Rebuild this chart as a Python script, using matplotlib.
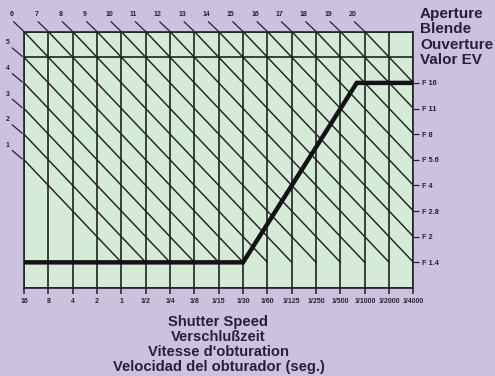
import matplotlib.pyplot as plt

# exposure table: shutter speeds along the bottom, apertures on the right
shutter_labels = ['16', '8', '4', '2', '1', '1/2', '1/4', '1/8', '1/15', '1/30',
                  '1/60', '1/125', '1/250', '1/500', '1/1000', '1/2000', '1/4000']
fstop_labels = ['F 1.4', 'F 2', 'F 2.8', 'F 4', 'F 5.6', 'F 8', 'F 11', 'F 16']
ev_values = list(range(1, 21))

# program line (shutter step, aperture step)
prog_shutter = [0, 9, 13.67, 16]
prog_aperture = [1, 1, 8, 8]

n_cols = len(shutter_labels) - 1
n_rows = 10

bg = '#cbc2dd'
cell = '#d5ebd7'
ink = '#202422'
txt = '#2a1f3a'

plt.rcParams['font.family'] = ['Liberation Sans', 'DejaVu Sans']

fig = plt.figure(figsize=(4.95, 3.76), dpi=100, facecolor=bg)
ax = fig.add_axes([24 / 495, 1 - 288 / 376, 389.5 / 495, 256.4 / 376])
ax.set_facecolor(cell)
ax.set_xlim(0, n_cols)
ax.set_ylim(0, n_rows)

# grid
ax.set_xticks(range(n_cols + 1))
ax.set_xticklabels(shutter_labels, fontsize=5, fontweight='bold', color=txt)
ax.set_yticks(range(1, len(fstop_labels) + 1))
ax.set_yticklabels(fstop_labels, fontsize=5.3, fontweight='bold', color=txt)
ax.set_yticks(range(n_rows + 1), minor=True)
ax.yaxis.tick_right()
ax.tick_params(axis='x', direction='out', length=4.5, width=1.1, color=ink, pad=2.5)
ax.tick_params(axis='y', which='major', direction='out', length=4.5, width=0.9,
               color=txt, pad=1.5)
ax.tick_params(axis='y', which='minor', length=0)
ax.grid(True, axis='x', which='major', color=ink, lw=1.2)
ax.grid(True, axis='y', which='minor', color=ink, lw=1.2)
for s in ax.spines.values():
    s.set_color(ink)
    s.set_linewidth(1.2)

# EV diagonals: x + y = ev + 4, above the F1.4 row
for ev in ev_values:
    c = ev + 4
    x0 = max(0, c - n_rows)
    x1 = min(n_cols, c - 1)
    ax.plot([x0, x1], [c - x0, c - x1], color=ink, lw=1.05, zorder=2)
    if x0 > 0 or c == n_rows:
        # label above the top edge
        ax.plot([x0 - 0.42, x0], [n_rows + 0.38, n_rows], color=txt, lw=0.9,
                clip_on=False)
        ax.text(x0 - 0.5, n_rows + 0.66, str(ev), fontsize=5, fontweight='bold',
                color=txt, ha='center', va='center', clip_on=False)
    else:
        # label left of the left edge
        y0 = c - x0
        ax.plot([-0.48, -0.08], [y0 + 0.36, y0 + 0.04], color=txt, lw=0.9,
                clip_on=False)
        ax.text(-0.66, y0 + 0.56, str(ev), fontsize=5, fontweight='bold',
                color=txt, ha='center', va='center', clip_on=False)

# program line
ax.plot(prog_shutter, prog_aperture, color='#141214', lw=3.2,
        solid_capstyle='butt', solid_joinstyle='miter', zorder=4, clip_on=False)

fig.text(420 / 495, 1 - 7 / 376, 'Aperture\nBlende\nOuverture\nValor EV',
         fontsize=11, fontweight='bold', color=txt, ha='left', va='top',
         linespacing=1.13)
fig.text(218.5 / 495, 1 - 315 / 376,
         'Shutter Speed\nVerschlußzeit\nVitesse d\'obturation\nVelocidad del obturador (seg.)',
         fontsize=10.6, fontweight='bold', color=txt, ha='center', va='top',
         linespacing=1.08)

fig.savefig('out.png', dpi=100, facecolor=bg)
